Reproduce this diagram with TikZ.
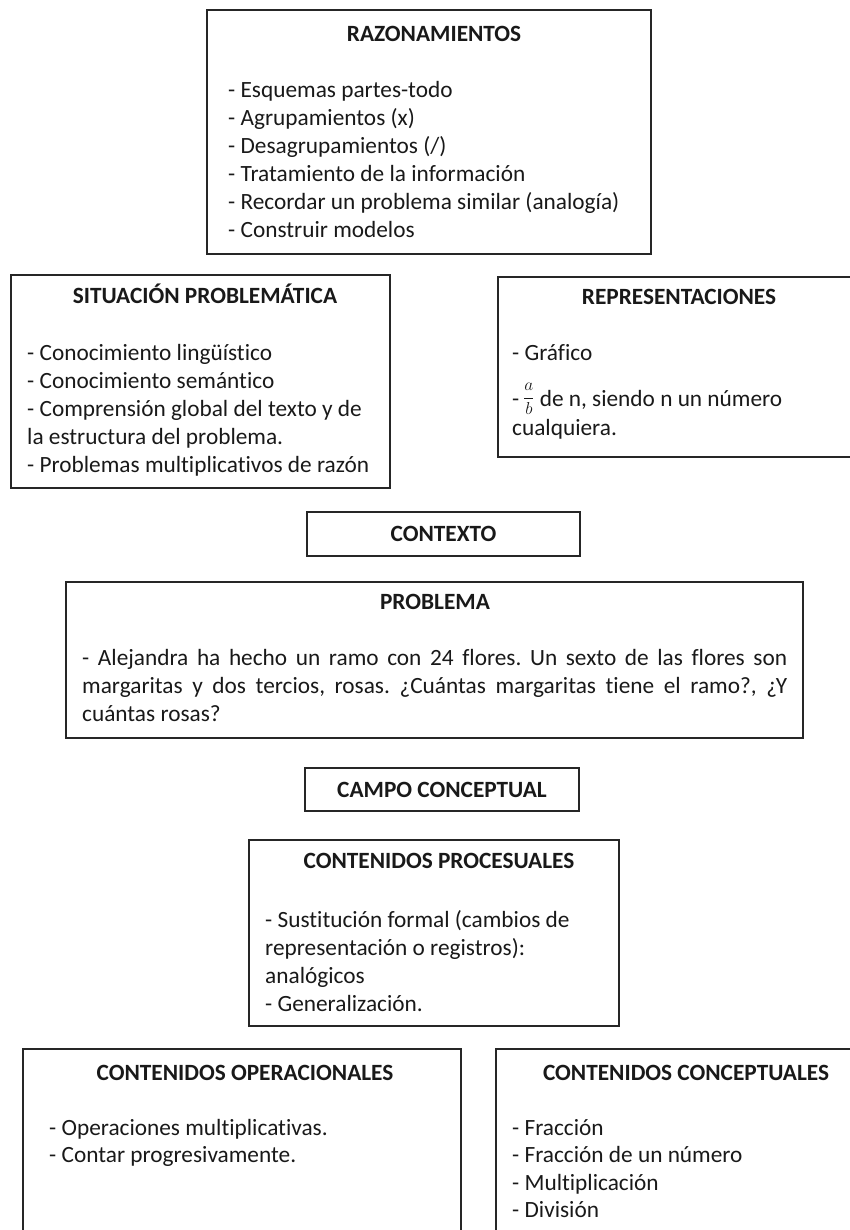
\documentclass[tikz,border=0pt]{standalone}
\usepackage{fontspec}
\setmainfont{Carlito}[Ligatures=NoCommon]
\frenchspacing
\tikzset{
  box/.style={draw=black!85, line width=1.5pt, anchor=north west, inner sep=0pt, outer sep=0pt},
  ttl/.style={font=\fontsize{23.3}{28}\selectfont\bfseries, text=black!90, anchor=base, inner sep=0pt},
  txt/.style={font=\fontsize{23.3}{28}\selectfont, text=black!90, anchor=base west, inner sep=0pt},
  boxttl/.style={box, font=\fontsize{23.3}{28}\selectfont\bfseries, text=black!90, align=center},
}
\begin{document}
\begin{tikzpicture}[x=1pt, y=-1pt]
\useasboundingbox (0,0) rectangle (850,1230);
\clip (0,0) rectangle (850,1230);

% RAZONAMIENTOS
\node[box, minimum width=444pt, minimum height=244pt] (raz) at (207,10) {};
\node[ttl] (raz-t) at (434,42) {RAZONAMIENTOS};
\foreach \t [count=\i] in {{- Esquemas partes-todo},{- Agrupamientos (x)},{- Desagrupamientos (/)},{- Tratamiento de la información},{- Recordar un problema similar (analogía)},{- Construir modelos}}
  \node[txt] (raz-l\i) at (228, 70+28*\i) {\t};

% SITUACION PROBLEMATICA
\node[box, minimum width=379pt, minimum height=213pt] (sit) at (11,275) {};
\node[ttl] (sit-t) at (205,304) {SITUACIÓN PROBLEMÁTICA};
\foreach \t [count=\i] in {{- Conocimiento lingüístico},{- Conocimiento semántico},{- Comprensión global del texto y de},{la estructura del problema.},{- Problemas multiplicativos de razón}}
  \node[txt] (sit-l\i) at (27, 332+28*\i) {\t};

% REPRESENTACIONES
\node[box, minimum width=362pt, minimum height=180pt] (rep) at (498,277) {};
\node[ttl] (rep-t) at (679,305) {REPRESENTACIONES};
\node[txt] (rep-l1) at (512,360) {- Gráfico};
\node[txt] (rep-l2) at (512,406) {-\,\raisebox{3.5pt}{\fontsize{16}{18}\selectfont$\displaystyle\frac{a}{b}$} de n, siendo n un número};
\node[txt] (rep-l3) at (512,435) {cualquiera.};

% CONTEXTO
\node[boxttl, minimum width=273pt, minimum height=44pt] (ctx) at (307,512) {CONTEXTO};

% PROBLEMA
\node[box, minimum width=737pt, minimum height=156pt] (prob) at (66,582) {};
\node[ttl] (prob-t) at (435,609) {PROBLEMA};
\node[txt] (prob-l1) at (82,665) {\makebox[705pt][s]{- Alejandra ha hecho un ramo con 24 flores. Un sexto de las flores son}};
\node[txt] (prob-l2) at (82,693) {\makebox[705pt][s]{margaritas y dos tercios, rosas. ¿Cuántas margaritas tiene el ramo?, ¿Y}};
\node[txt] (prob-l3) at (82,721) {cuántas rosas?};

% CAMPO CONCEPTUAL
\node[boxttl, minimum width=274pt, minimum height=43pt] (campo) at (305,768) {CAMPO CONCEPTUAL};

% CONTENIDOS PROCESUALES
\node[box, minimum width=370pt, minimum height=186pt] (proc) at (249,840) {};
\node[ttl] (proc-t) at (439,868) {CONTENIDOS PROCESUALES};
\foreach \t [count=\i] in {{- Sustitución formal (cambios de},{representación o registros):},{analógicos},{- Generalización.}}
  \node[txt] (proc-l\i) at (265, 899+28*\i) {\t};

% CONTENIDOS OPERACIONALES
\node[box, minimum width=438pt, minimum height=220pt] (oper) at (23,1049) {};
\node[ttl] (oper-t) at (245,1080) {CONTENIDOS OPERACIONALES};
\foreach \t [count=\i] in {{- Operaciones multiplicativas.},{- Contar progresivamente.}}
  \node[txt] (oper-l\i) at (49, 1107.5+27.5*\i) {\t};

% CONTENIDOS CONCEPTUALES
\node[box, minimum width=380pt, minimum height=220pt] (conc) at (496,1049) {};
\node[ttl] (conc-t) at (686,1080) {CONTENIDOS CONCEPTUALES};
\foreach \t [count=\i] in {{- Fracción},{- Fracción de un número},{- Multiplicación},{- División}}
  \node[txt] (conc-l\i) at (512, 1107.5+27.5*\i) {\t};
\end{tikzpicture}
\end{document}
